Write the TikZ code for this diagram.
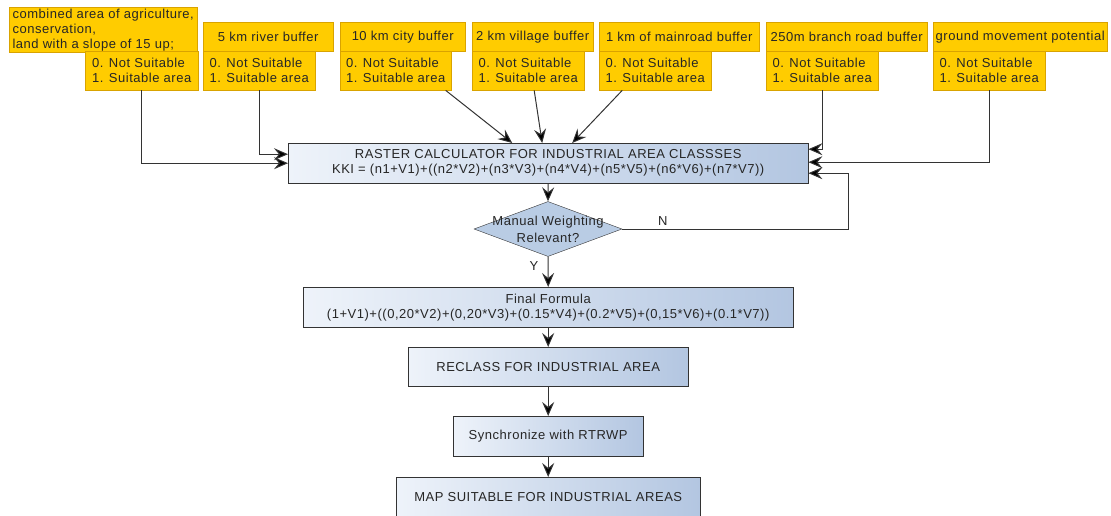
\documentclass[tikz,border=0pt]{standalone}
\usepackage{fontspec}
\setmainfont{Liberation Sans}[LetterSpace=4]
\usetikzlibrary{shapes.geometric,arrows.meta}

\definecolor{hdrfill}{HTML}{FFCC00}
\definecolor{hdrline}{HTML}{D9A300}
\definecolor{boxleft}{HTML}{EEF3FA}
\definecolor{boxright}{HTML}{B3C6E1}
\definecolor{decfill}{HTML}{B9CCE4}
\definecolor{edge}{HTML}{333333}

\newcommand{\suitable}{0. Not Suitable\\1. Suitable area}

\tikzset{
  txt/.style={font=\fontsize{13}{15}\selectfont, text=black!85},
  hdr/.style={txt, draw=hdrline, fill=hdrfill, anchor=north west, inner sep=1.5pt, align=left},
  proc/.style={txt, draw=edge, left color=boxleft, right color=boxright, anchor=north west, align=center, inner sep=2pt},
  dec/.style={diamond, draw=edge, fill=decfill, minimum width=148pt, minimum height=55pt, inner sep=0pt},
  arr/.style={draw=edge, line width=1pt, -{Stealth[length=14pt,width=12pt,inset=5pt,fill=black]}}
}

\begin{document}
\begin{tikzpicture}[x=1pt, y=-1pt]
    \useasboundingbox (0,0) rectangle (1111,516);

    % headers of the input layers
    \node[hdr, minimum width=188pt, minimum height=44pt] (h1) at (9,7) {combined area of agriculture,\\conservation,\\land with a slope of 15 up;};
    \node[hdr, minimum width=130pt, minimum height=29pt] (h2) at (203,22) {5 km river buffer};
    \node[hdr, minimum width=125pt, minimum height=29pt] (h3) at (340,22) {10 km city buffer};
    \node[hdr, minimum width=121pt, minimum height=29pt] (h4) at (472,22) {2 km village buffer};
    \node[hdr, minimum width=160pt, minimum height=29pt] (h5) at (599,22) {1 km of mainroad buffer};
    \node[hdr, minimum width=161pt, minimum height=29pt] (h6) at (766,22) {250m branch road buffer};
    \node[hdr, minimum width=174pt, minimum height=29pt] (h7) at (933,22) {ground movement potential};

    % classes of each layer
    \node[hdr, minimum width=113pt, minimum height=39pt] (s1) at (85,51) {\suitable};
    \node[hdr, minimum width=112pt, minimum height=39pt] (s2) at (203,51) {\suitable};
    \node[hdr, minimum width=111pt, minimum height=39pt] (s3) at (340,51) {\suitable};
    \node[hdr, minimum width=112pt, minimum height=39pt] (s4) at (472,51) {\suitable};
    \node[hdr, minimum width=112pt, minimum height=39pt] (s5) at (599,51) {\suitable};
    \node[hdr, minimum width=112pt, minimum height=39pt] (s6) at (766,51) {\suitable};
    \node[hdr, minimum width=112pt, minimum height=39pt] (s7) at (933,51) {\suitable};

    % process chain
    \node[proc, minimum width=520pt, minimum height=40pt] (raster) at (288,143) {RASTER CALCULATOR FOR INDUSTRIAL AREA CLASSSES\\KKI = (n1+V1)+((n2*V2)+(n3*V3)+(n4*V4)+(n5*V5)+(n6*V6)+(n7*V7))};
    \node[dec, label={[txt, align=center, font=\fontsize{13}{17}\selectfont]center:Manual Weighting\\Relevant?}] (manual) at (548,229) {};
    \node[proc, minimum width=490pt, minimum height=40pt] (final) at (303,287) {Final Formula\\(1+V1)+((0,20*V2)+(0,20*V3)+(0.15*V4)+(0.2*V5)+(0,15*V6)+(0.1*V7))};
    \node[proc, minimum width=280pt, minimum height=39pt] (reclass) at (408,347) {RECLASS FOR INDUSTRIAL AREA};
    \node[proc, minimum width=190pt, minimum height=40pt] (sync) at (453,416) {Synchronize with RTRWP};
    \node[proc, minimum width=304pt, minimum height=39pt] (map) at (396,477) {MAP SUITABLE FOR INDUSTRIAL AREAS};

    % layers into the raster calculator
    \draw[arr] (s1.south) |- (raster.west);
    \draw[arr] (s2.south) |- ([yshift=9pt]raster.west);
    \draw[arr] ([xshift=50pt]s3.south) -- ([xshift=-36pt]raster.north);
    \draw[arr] ([xshift=6pt]s4.south) -- ([xshift=-6pt]raster.north);
    \draw[arr] ([xshift=-33pt]s5.south) -- ([xshift=24pt]raster.north);
    \draw[arr] (s6.south) |- ([yshift=14pt]raster.east);
    \draw[arr] (s7.south) |- ([yshift=1pt]raster.east);

    % decision and loop back
    \draw[arr] (raster.south) -- (manual.north);
    \draw[arr] (manual.east) -- node[txt, above, pos=0.18] {N} ++(226,0) |- ([yshift=-10pt]raster.east);
    \draw[arr] (manual.south) -- node[txt, left=6pt, pos=0.3] {Y} (final.north);
    \draw[arr] (final.south) -- (reclass.north);
    \draw[arr] (reclass.south) -- (sync.north);
    \draw[arr] (sync.south) -- (map.north);

\end{tikzpicture}
\end{document}
